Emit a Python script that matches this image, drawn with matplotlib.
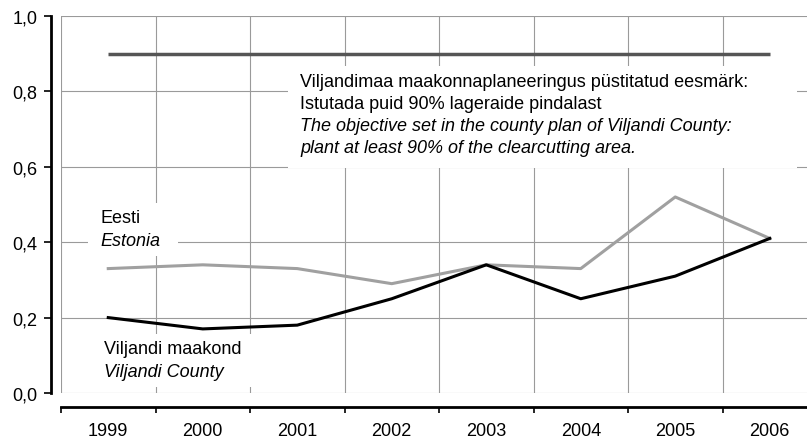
import matplotlib.pyplot as plt
from matplotlib.patches import Rectangle
from matplotlib.ticker import FixedLocator, FuncFormatter

plt.rcParams['font.family'] = ['Liberation Sans', 'DejaVu Sans']

years = ['1999', '2000', '2001', '2002', '2003', '2004', '2005', '2006']
eesti = [0.33, 0.34, 0.33, 0.29, 0.34, 0.33, 0.52, 0.41]
viljandi = [0.20, 0.17, 0.18, 0.25, 0.34, 0.25, 0.31, 0.41]
eesmark = [0.9] * len(years)

W, H = 807, 439
fig = plt.figure(figsize=(W / 100, H / 100), dpi=100)
# plot area in pixels: x 61..817 (past the right edge), y 17..394
ax = fig.add_axes([61 / W, (H - 394) / H, (817 - 61) / W, (394 - 17) / H])

x = list(range(len(years)))
ax.set_xlim(-0.5, len(years) - 0.5)
ax.set_ylim(0, 1.0)

# px -> data helpers for text and white boxes
def dx(px):
    return (px - 108.25) / 94.5

def dy(py):
    return (394 - py) / 377

ax.plot(x, eesmark, color='#555555', lw=2.5, zorder=4, solid_capstyle='butt')
ax.plot(x, eesti, color='#a0a0a0', lw=2.2, zorder=4)
ax.plot(x, viljandi, color='black', lw=2.2, zorder=5)

# grid
ax.xaxis.set_major_locator(FixedLocator([i - 0.5 for i in range(len(years) + 1)]))
ax.xaxis.set_minor_locator(FixedLocator(x))
ax.xaxis.set_major_formatter(FuncFormatter(lambda v, p: ''))
ax.xaxis.set_minor_formatter(FuncFormatter(lambda v, p: years[int(round(v))]))
ax.set_yticks([0, 0.2, 0.4, 0.6, 0.8, 1.0])
ax.yaxis.set_major_formatter(FuncFormatter(lambda v, p: f'{v:.1f}'.replace('.', ',')))
ax.grid(True, which='major', color='#9a9a9a', lw=0.8, zorder=0)
ax.set_axisbelow(True)

ax.tick_params(axis='x', which='major', length=4, width=1.2, direction='out', color='black')
ax.tick_params(axis='x', which='minor', length=0, pad=11, labelsize=13)
ax.tick_params(axis='y', which='major', length=5, width=1.2, pad=5, labelsize=13)

for s in ['top', 'right']:
    ax.spines[s].set_visible(False)
ax.spines['left'].set_position(('outward', 7))
ax.spines['bottom'].set_position(('outward', 10))
ax.spines['left'].set_linewidth(2)
ax.spines['bottom'].set_linewidth(2)

# white boxes behind labels
ax.add_patch(Rectangle((dx(288), dy(169)), dx(797) - dx(288), dy(67) - dy(169),
                       facecolor='white', edgecolor='none', zorder=2))
ax.add_patch(Rectangle((dx(88), dy(257)), dx(178) - dx(88), dy(204) - dy(257),
                       facecolor='white', edgecolor='none', zorder=2))
ax.add_patch(Rectangle((dx(92), dy(388)), dx(262) - dx(92), dy(335) - dy(388),
                       facecolor='white', edgecolor='none', zorder=2))

fs = 13
ax.text(dx(300), dy(87), 'Viljandimaa maakonnaplaneeringus püstitatud eesmärk:',
        fontsize=fs, va='baseline', zorder=6)
ax.text(dx(300), dy(109), 'Istutada puid 90% lageraide pindalast',
        fontsize=fs, va='baseline', zorder=6)
ax.text(dx(300), dy(131), 'The objective set in the county plan of Viljandi County:',
        fontsize=fs, va='baseline', style='italic', zorder=6)
ax.text(dx(300), dy(153), 'plant at least 90% of the clearcutting area.',
        fontsize=fs, va='baseline', style='italic', zorder=6)

ax.text(dx(100), dy(223), 'Eesti', fontsize=fs, va='baseline', zorder=6)
ax.text(dx(100), dy(246), 'Estonia', fontsize=fs, va='baseline', style='italic', zorder=6)

ax.text(dx(104), dy(354), 'Viljandi maakond', fontsize=fs, va='baseline', zorder=6)
ax.text(dx(104), dy(377), 'Viljandi County', fontsize=fs, va='baseline', style='italic', zorder=6)

fig.savefig('out.png', dpi=100)
